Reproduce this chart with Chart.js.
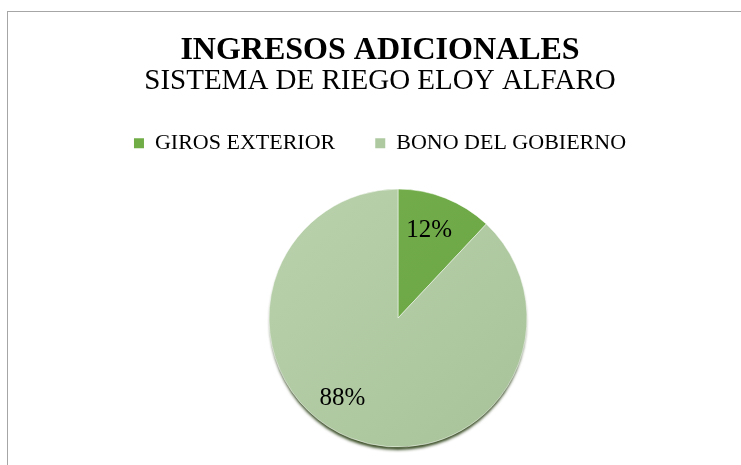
<!DOCTYPE html>
<html><head><meta charset="utf-8">
<script src="https://cdn.jsdelivr.net/npm/chart.js@4.4.1/dist/chart.umd.min.js"></script>
<style>
html,body{margin:0;padding:0;overflow:hidden;background:#fff;width:741px;height:465px}
#wrap{position:absolute;left:0;top:0;width:760px;height:472px}
</style>
</head><body><div id="wrap"><canvas id="c" width="760" height="472"></canvas></div>
<script>
const titleText = 'INGRESOS ADICIONALES';
const subtitleText = 'SISTEMA DE RIEGO ELOY ALFARO';
const categories = ['GIROS EXTERIOR', 'BONO DEL GOBIERNO'];
const percentages = [12, 88];
const sliceColors = ['#70ad47', '#aec8a0'];
const gradientStops = [['#76b04d', '#67a242'], ['#bad2ad', '#a7c298']];

const SERIF = "'Liberation Serif', 'Times New Roman', serif";
const PIE_RADIUS = 129;
const PIE_SHIFT_X = 18;
const LABEL_RADIUS = [0.72, 0.76];
const LABEL_ANGLE_SHIFT = [-2, 13];

const framePlugin = {
  id: 'frame',
  beforeDraw(chart) {
    const ctx = chart.ctx;
    ctx.save();
    ctx.fillStyle = '#ffffff';
    ctx.fillRect(0, 0, chart.width, chart.height);
    ctx.strokeStyle = '#a6a6a6';
    ctx.lineWidth = 1;
    ctx.strokeRect(7.5, 11.5, chart.width + 20, chart.height + 20);
    ctx.restore();
  }
};

const piePlugin = {
  id: 'pieDecor',
  beforeDatasetsDraw(chart) {
    const ctx = chart.ctx;
    ctx.save();
    ctx.translate(PIE_SHIFT_X, 0);
    const arc = chart.getDatasetMeta(0).data[0];
    if (!arc) return;
    const p = arc.getProps(['x', 'y', 'outerRadius'], true);
    ctx.save();
    ctx.shadowColor = 'rgba(60,80,40,1)';
    ctx.shadowBlur = 3;
    ctx.shadowOffsetY = 4;
    ctx.fillStyle = sliceColors[1];
    ctx.beginPath();
    ctx.arc(p.x, p.y, p.outerRadius - 1, 0, Math.PI * 2);
    ctx.fill();
    ctx.restore();
  },
  afterDatasetsDraw(chart) {
    const ctx = chart.ctx;
    const meta = chart.getDatasetMeta(0);
    ctx.save();
    ctx.fillStyle = '#000';
    ctx.font = '25px ' + SERIF;
    ctx.textAlign = 'center';
    ctx.textBaseline = 'middle';
    meta.data.forEach((arc, i) => {
      const p = arc.getProps(['x', 'y', 'startAngle', 'endAngle', 'outerRadius'], true);
      const a = (p.startAngle + p.endAngle) / 2 + LABEL_ANGLE_SHIFT[i] * Math.PI / 180;
      const r = p.outerRadius * LABEL_RADIUS[i];
      ctx.fillText(percentages[i] + '%', p.x + r * Math.cos(a), p.y + r * Math.sin(a));
    });
    ctx.restore();
    ctx.restore();
  }
};

function sliceFill(c) {
  const chart = c.chart;
  const a = chart.chartArea;
  const i = c.dataIndex;
  if (!a) return sliceColors[i];
  const cx = (a.left + a.right) / 2, cy = (a.top + a.bottom) / 2;
  const g = chart.ctx.createLinearGradient(cx - PIE_RADIUS, cy - PIE_RADIUS, cx + PIE_RADIUS, cy + PIE_RADIUS);
  g.addColorStop(0, gradientStops[i][0]);
  g.addColorStop(1, gradientStops[i][1]);
  return g;
}

Chart.defaults.color = '#000';
new Chart(document.getElementById('c'), {
  type: 'pie',
  data: {
    labels: categories,
    datasets: [{
      data: percentages,
      backgroundColor: sliceFill,
      borderColor: 'rgba(255,255,255,0.5)',
      borderWidth: 1,
      radius: PIE_RADIUS
    }]
  },
  options: {
    responsive: false,
    animation: false,
    devicePixelRatio: 1,
    layout: { padding: { left: 0, right: 0, top: 0, bottom: 0 } },
    plugins: {
      tooltip: { enabled: false },
      title: {
        display: true,
        text: titleText,
        color: '#000',
        font: { family: SERIF, size: 32, weight: 'bold', lineHeight: 1.2 },
        padding: { top: 32, bottom: 0 }
      },
      subtitle: {
        display: true,
        text: subtitleText,
        color: '#000',
        font: { family: SERIF, size: 29, weight: 'normal', lineHeight: 0.75 },
        padding: { top: 0, bottom: 0 }
      },
      legend: {
        position: 'top',
        labels: {
          color: '#000',
          font: { family: SERIF, size: 22 },
          boxWidth: 10,
          boxHeight: 10,
          padding: 40,
          generateLabels: () => categories.map((t, i) => ({
            text: t, fillStyle: sliceColors[i], strokeStyle: sliceColors[i],
            lineWidth: 0, hidden: false, index: i, fontColor: '#000'
          }))
        }
      }
    }
  },
  plugins: [framePlugin, piePlugin]
});
</script>
</body></html>
